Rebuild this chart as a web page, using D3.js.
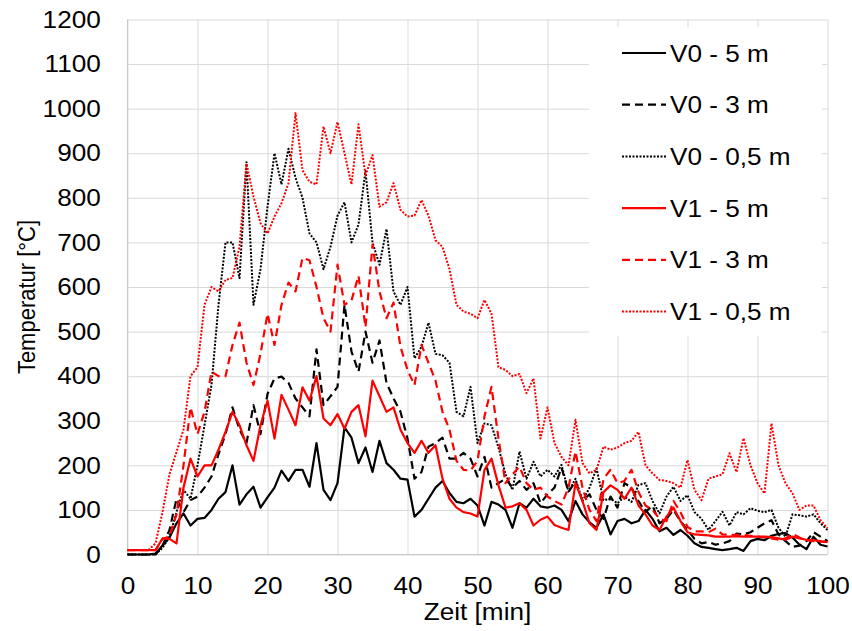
<!DOCTYPE html>
<html>
<head>
<meta charset="utf-8">
<script src="https://cdn.jsdelivr.net/npm/d3@7"></script>
<style>
  body { margin: 0; background: #fff; }
  svg { display: block; }
</style>
</head>
<body>
<svg width="852" height="631"></svg>
<script>
// minutes 0..100, one reading per minute
const minutes = d3.range(0, 101);

const xTicks = [0, 10, 20, 30, 40, 50, 60, 70, 80, 90, 100];
const yTicks = [0, 100, 200, 300, 400, 500, 600, 700, 800, 900, 1000, 1100, 1200];

const seriesNames = ['V0 - 5 m', 'V0 - 3 m', 'V0 - 0,5 m', 'V1 - 5 m', 'V1 - 3 m', 'V1 - 0,5 m'];

const v0_5m = [
  0, 0, 0, 0, 2, 20, 38, 70, 92, 65,
  80, 82, 100, 125, 140, 200, 112, 135, 152, 105,
  128, 150, 188, 165, 190, 190, 152, 250, 145, 122,
  160, 285, 262, 205, 240, 185, 255, 205, 190, 170,
  168, 85, 100, 125, 150, 165, 138, 118, 115, 125,
  110, 65, 118, 112, 100, 60, 115, 105, 125, 108,
  105, 110, 100, 75, 120, 90, 72, 60, 90, 45,
  75, 80, 70, 75, 100, 80, 52, 60, 44, 55,
  42, 25, 17, 15, 12, 10, 12, 15, 8, 30,
  35, 32, 42, 46, 48, 38, 22, 12, 40, 22,
  18];

const v0_3m = [
  0, 0, 0, 0, 0, 20, 55, 125, 95, 122,
  130, 150, 175, 225, 270, 330, 280, 250, 335, 270,
  360, 395, 399, 385, 350, 330, 310, 460, 335, 355,
  376, 560, 455, 410, 500, 430, 480, 385, 350, 320,
  260, 170, 185, 242, 250, 262, 215, 215, 228, 215,
  175, 219, 150, 160, 170, 150, 165, 145, 160, 115,
  135, 150, 195, 140, 165, 120, 135, 100, 80, 130,
  105, 160, 150, 120, 95, 110, 70, 80, 100, 75,
  55, 35, 25, 28, 22, 25, 30, 47, 45, 50,
  60, 70, 77, 45, 30, 17, 20, 30, 50, 40,
  30];

const v0_05m = [
  0, 0, 0, 0, 0, 15, 40, 95, 145, 125,
  200, 290, 380, 560, 700, 700, 620, 880, 560, 640,
  780, 900, 830, 910, 845, 800, 720, 700, 640, 690,
  760, 790, 700, 740, 860, 700, 650, 730, 590, 560,
  600, 440, 466, 520, 450, 447, 430, 320, 310, 376,
  250, 294, 290, 240, 180, 145, 231, 170, 208, 175,
  190, 175, 201, 141, 170, 120, 150, 193, 122, 125,
  115, 130, 118, 156, 160, 120, 92, 130, 152, 120,
  133, 95, 80, 55, 75, 96, 65, 95, 90, 104,
  98, 95, 100, 60, 40, 90, 88, 85, 90, 70,
  55];

const v1_5m = [
  10, 10, 10, 10, 10, 36, 35, 25, 150, 215,
  175, 200, 200, 235, 275, 320, 290, 245, 210, 290,
  345, 260, 358, 325, 290, 375, 345, 400, 305, 290,
  315, 282, 320, 335, 265, 390, 355, 320, 330, 280,
  250, 228, 255, 228, 245, 170, 125, 105, 95, 92,
  85, 190, 215, 155, 105, 108, 115, 100, 65, 78,
  85, 66, 60, 55, 160, 120, 70, 55, 140, 155,
  145, 125, 150, 110, 90, 65, 55, 85, 105, 75,
  50, 45, 44, 43, 40, 40, 40, 41, 40, 40,
  40, 40, 39, 36, 33, 40, 36, 33, 32, 30,
  28];

const v1_3m = [
  10, 10, 10, 10, 10, 35, 40, 90, 200, 330,
  270, 320, 410, 400, 400, 470, 520, 430, 380, 450,
  540, 470, 560, 610, 590, 665, 660, 600, 530, 500,
  650, 560, 570, 625, 510, 695, 590, 530, 565, 466,
  414, 380, 470, 430, 390, 320, 280, 210, 190, 188,
  210, 310, 376, 260, 160, 180, 197, 160, 145, 150,
  130, 120, 112, 150, 231, 150, 100, 75, 170, 190,
  160, 165, 190, 140, 110, 100, 80, 75, 120, 95,
  62, 52, 52, 50, 58, 45, 44, 44, 44, 42,
  40, 38, 36, 33, 36, 46, 38, 32, 30, 29,
  28];

const v1_05m = [
  10, 10, 10, 10, 25, 95, 180, 230, 280, 400,
  420, 560, 600, 590, 616, 620, 690, 877, 803, 743,
  720, 758, 788, 833, 990, 862, 836, 830, 960, 900,
  970, 900, 830, 965, 850, 896, 780, 790, 833, 773,
  758, 760, 795, 760, 705, 690, 640, 560, 545, 540,
  530, 571, 540, 420, 414, 400, 405, 362, 395, 260,
  330, 250, 219, 200, 302, 205, 182, 190, 242, 235,
  240, 250, 255, 275, 200, 182, 167, 165, 160, 150,
  212, 145, 122, 170, 175, 180, 227, 185, 261, 200,
  160, 137, 294, 200, 160, 137, 100, 110, 110, 77,
  59];

const seriesValues = [v0_5m, v0_3m, v0_05m, v1_5m, v1_3m, v1_05m];

// line looks, in the same order as the series
const colors = ['#000000', '#000000', '#000000', '#ff0000', '#ff0000', '#ff0000'];
const dashes = [null, '8,5', '2,1.5', null, '8,5', '2,1.5'];
const widths = [2.2, 2.2, 2, 2.2, 2.2, 2];

const font = '"Liberation Sans", Arial, sans-serif';
const stretch = 'scale(1.09,1)';

const svg = d3.select('svg');
const margin = {top: 19.5, right: 24.5, bottom: 76.5, left: 127.5};
const width = 852, height = 631;

const x = d3.scaleLinear().domain([0, 100]).range([margin.left, width - margin.right]);
const y = d3.scaleLinear().domain([0, 1200]).range([height - margin.bottom, margin.top]);

// gridlines
svg.append('g')
    .attr('transform', `translate(${margin.left},0)`)
    .call(d3.axisLeft(y).tickValues(yTicks).tickSize(-(x(100) - x(0))).tickFormat(''))
    .call((g) => g.select('.domain').remove())
    .call((g) => g.selectAll('line').attr('stroke', '#d9d9d9'));

svg.append('g')
    .attr('transform', `translate(0,${y(0)})`)
    .call(d3.axisBottom(x).tickValues(xTicks).tickSize(-(y(0) - y(1200))).tickFormat(''))
    .call((g) => g.select('.domain').remove())
    .call((g) => g.selectAll('line').attr('stroke', '#d9d9d9'));

// axis lines
svg.append('line')
    .attr('x1', x(0)).attr('x2', x(0)).attr('y1', y(1200)).attr('y2', y(0))
    .attr('stroke', '#c8c8c8');
svg.append('line')
    .attr('x1', x(0)).attr('x2', x(100)).attr('y1', y(0)).attr('y2', y(0))
    .attr('stroke', '#c8c8c8');

// tick labels
const yAxis = svg.append('g')
    .attr('transform', `translate(${margin.left},0)`)
    .call(d3.axisLeft(y).tickValues(yTicks).tickFormat(d3.format('d'))
        .tickSize(0).tickPadding(24.5));
yAxis.select('.domain').remove();
yAxis.selectAll('text')
    .attr('font-family', font).attr('font-size', 24).attr('fill', '#000')
    .attr('transform', stretch);

const xAxis = svg.append('g')
    .attr('transform', `translate(0,${y(0)})`)
    .call(d3.axisBottom(x).tickValues(xTicks).tickFormat(d3.format('d'))
        .tickSize(0).tickPadding(22.5));
xAxis.select('.domain').remove();
xAxis.selectAll('text')
    .attr('font-family', font).attr('font-size', 24).attr('fill', '#000')
    .attr('transform', stretch);

// axis titles
svg.append('text')
    .attr('transform', `translate(${(x(0) + x(100)) / 2},620) ${stretch}`)
    .attr('text-anchor', 'middle')
    .attr('font-family', font).attr('font-size', 24)
    .text('Zeit [min]');

svg.append('text')
    .attr('transform', 'translate(35,297) rotate(-90) scale(1,1.09)')
    .attr('text-anchor', 'middle')
    .attr('font-family', font).attr('font-size', 22)
    .text('Temperatur [°C]');

// series
const line = d3.line()
    .x((d, i) => x(minutes[i]))
    .y((d) => y(d));

svg.append('g')
    .attr('fill', 'none')
    .attr('stroke-linejoin', 'round')
    .selectAll('path')
    .data(seriesValues)
    .join('path')
    .attr('stroke', (d, i) => colors[i])
    .attr('stroke-width', (d, i) => widths[i])
    .attr('stroke-dasharray', (d, i) => dashes[i])
    .attr('d', line);

// legend
const legend = svg.append('g');
legend.append('rect')
    .attr('x', 589).attr('y', 27).attr('width', 233).attr('height', 309)
    .attr('fill', '#fff');

const item = legend.selectAll('g.item')
    .data(seriesNames)
    .join('g')
    .attr('class', 'item')
    .attr('transform', (d, i) => `translate(622,${53 + i * 51.7})`);

item.append('line')
    .attr('x1', 0).attr('x2', 44)
    .attr('stroke', (d, i) => colors[i])
    .attr('stroke-width', (d, i) => widths[i])
    .attr('stroke-dasharray', (d, i) => dashes[i]);

item.append('text')
    .attr('transform', `translate(48,8.5) ${stretch}`)
    .attr('font-family', font).attr('font-size', 24)
    .text((d) => d);
</script>
</body>
</html>
